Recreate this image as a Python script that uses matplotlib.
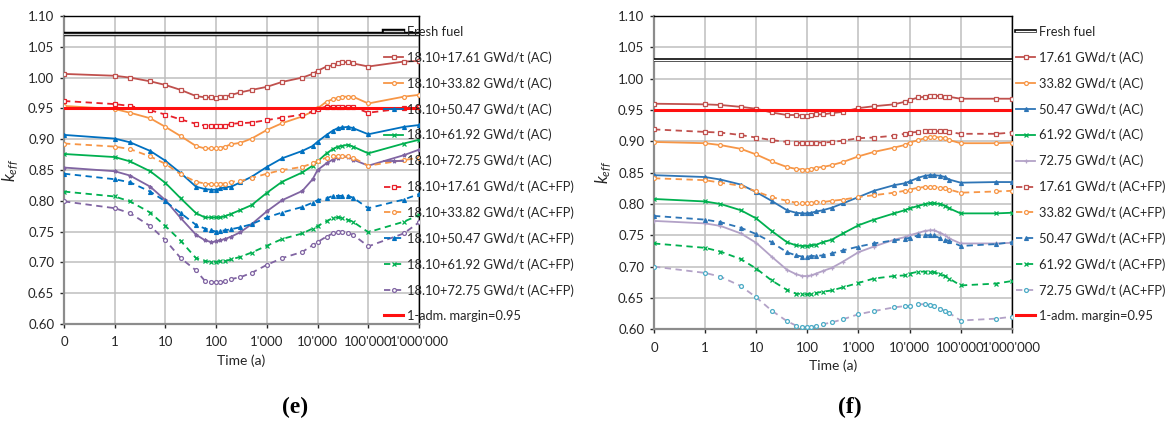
import matplotlib
matplotlib.use("Agg")
import matplotlib.pyplot as plt
import matplotlib.patheffects as pe
import numpy as np

plt.rcParams["font.family"] = ["Lato", "DejaVu Sans"]
plt.rcParams["mathtext.fontset"] = "custom"
plt.rcParams["mathtext.it"] = "Lato:italic"
plt.rcParams["mathtext.rm"] = "Lato"

# time axis (years)
TIME_E = [0, 1, 2, 5, 10, 20, 40, 60, 80, 100, 120, 150, 200, 300, 500, 1000, 2000, 5000,
          8000, 10000, 15000, 20000, 25000, 30000, 40000, 50000, 100000, 500000, 1000000]
TIME_F = [0, 1, 2, 5, 10, 20, 40, 60, 80, 100, 120, 150, 200, 300, 500, 1000, 2000, 5000,
          8000, 10000, 15000, 20000, 25000, 30000, 40000, 50000, 60000, 100000, 500000, 1000000]
XTICKS = [0, 1, 10, 100, 1000, 10000, 100000, 1000000]
XTICK_LABELS = ["0", "1", "10", "100", "1'000", "10'000", "100'000", "1'000'000"]
YTICKS = [0.60, 0.65, 0.70, 0.75, 0.80, 0.85, 0.90, 0.95, 1.00, 1.05, 1.10]

FRESH_E = 1.07
FRESH_F = 1.03
MARGIN = 0.95

# panel (e): 18.10 + burnup
E_AC_1761 = [1.006, 1.003, 1.000, 0.994, 0.988, 0.980, 0.970, 0.968, 0.968, 0.967, 0.968, 0.969, 0.972,
             0.976, 0.980, 0.985, 0.993, 1.000, 1.006, 1.011, 1.018, 1.020, 1.023, 1.025, 1.025, 1.023,
             1.018, 1.026, 1.027]
E_AC_3382 = [0.954, 0.949, 0.943, 0.934, 0.920, 0.905, 0.889, 0.885, 0.885, 0.885, 0.886, 0.888, 0.892,
             0.894, 0.901, 0.915, 0.926, 0.937, 0.945, 0.950, 0.961, 0.965, 0.967, 0.969, 0.969, 0.969,
             0.958, 0.969, 0.972]
E_AC_5047 = [0.907, 0.901, 0.895, 0.881, 0.865, 0.845, 0.823, 0.819, 0.818, 0.818, 0.820, 0.822, 0.823,
             0.830, 0.839, 0.855, 0.869, 0.881, 0.889, 0.896, 0.907, 0.914, 0.918, 0.919, 0.920, 0.918,
             0.908, 0.920, 0.923]
E_AC_6192 = [0.876, 0.871, 0.864, 0.848, 0.829, 0.804, 0.780, 0.773, 0.773, 0.773, 0.773, 0.775, 0.779,
             0.785, 0.793, 0.813, 0.831, 0.846, 0.857, 0.864, 0.877, 0.884, 0.888, 0.889, 0.891, 0.888,
             0.877, 0.893, 0.899]
E_AC_7275 = [0.854, 0.848, 0.841, 0.823, 0.801, 0.772, 0.745, 0.736, 0.733, 0.734, 0.736, 0.738, 0.742,
             0.749, 0.762, 0.783, 0.801, 0.816, 0.835, 0.850, 0.861, 0.867, 0.870, 0.872, 0.871, 0.867,
             0.857, 0.874, 0.883]
E_FP_1761 = [0.962, 0.957, 0.954, 0.947, 0.940, 0.932, 0.925, 0.922, 0.922, 0.922, 0.922, 0.922, 0.925,
             0.926, 0.927, 0.931, 0.935, 0.940, 0.945, 0.949, 0.953, 0.953, 0.953, 0.953, 0.953, 0.952,
             0.943, 0.950, 0.952]
E_FP_3382 = [0.893, 0.888, 0.884, 0.872, 0.860, 0.843, 0.831, 0.828, 0.827, 0.827, 0.828, 0.828, 0.831,
             0.832, 0.837, 0.844, 0.850, 0.855, 0.861, 0.865, 0.870, 0.872, 0.872, 0.872, 0.872, 0.870,
             0.857, 0.866, 0.870]
E_FP_5047 = [0.844, 0.835, 0.830, 0.815, 0.799, 0.780, 0.761, 0.755, 0.752, 0.750, 0.751, 0.752, 0.754,
             0.757, 0.762, 0.773, 0.781, 0.790, 0.797, 0.801, 0.804, 0.808, 0.808, 0.808, 0.808, 0.805,
             0.788, 0.802, 0.811]
E_FP_6192 = [0.815, 0.807, 0.799, 0.781, 0.759, 0.735, 0.707, 0.702, 0.701, 0.701, 0.702, 0.702, 0.705,
             0.709, 0.716, 0.727, 0.738, 0.747, 0.755, 0.759, 0.767, 0.772, 0.773, 0.772, 0.769, 0.766,
             0.749, 0.766, 0.777]
E_FP_7275 = [0.799, 0.788, 0.780, 0.759, 0.736, 0.707, 0.687, 0.670, 0.668, 0.668, 0.668, 0.669, 0.673,
             0.676, 0.683, 0.696, 0.707, 0.717, 0.728, 0.733, 0.742, 0.747, 0.750, 0.750, 0.747, 0.745,
             0.726, 0.747, 0.765]

# panel (f): burnup only
F_AC_1761 = [0.960, 0.959, 0.958, 0.955, 0.952, 0.946, 0.942, 0.942, 0.941, 0.941, 0.942, 0.943, 0.943,
             0.945, 0.947, 0.953, 0.956, 0.959, 0.963, 0.966, 0.970, 0.971, 0.972, 0.973, 0.972, 0.971,
             0.971, 0.968, 0.968, 0.968]
F_AC_3382 = [0.899, 0.897, 0.894, 0.888, 0.879, 0.868, 0.859, 0.856, 0.855, 0.855, 0.856, 0.858, 0.859,
             0.862, 0.867, 0.876, 0.883, 0.890, 0.894, 0.898, 0.902, 0.905, 0.907, 0.907, 0.906, 0.905,
             0.902, 0.897, 0.897, 0.898]
F_AC_5047 = [0.846, 0.843, 0.839, 0.831, 0.819, 0.805, 0.790, 0.786, 0.785, 0.785, 0.786, 0.788, 0.790,
             0.794, 0.801, 0.811, 0.821, 0.830, 0.833, 0.836, 0.842, 0.845, 0.846, 0.846, 0.845, 0.843,
             0.839, 0.834, 0.835, 0.835]
F_AC_6192 = [0.808, 0.804, 0.800, 0.790, 0.777, 0.757, 0.739, 0.734, 0.733, 0.733, 0.734, 0.735, 0.739,
             0.743, 0.753, 0.766, 0.775, 0.785, 0.790, 0.793, 0.797, 0.800, 0.801, 0.801, 0.800, 0.797,
             0.793, 0.785, 0.785, 0.786]
F_AC_7275 = [0.773, 0.769, 0.765, 0.753, 0.738, 0.716, 0.695, 0.688, 0.685, 0.685, 0.686, 0.689, 0.693,
             0.698, 0.708, 0.723, 0.732, 0.743, 0.747, 0.750, 0.754, 0.757, 0.758, 0.758, 0.754, 0.750,
             0.745, 0.737, 0.737, 0.738]
F_FP_1761 = [0.919, 0.915, 0.914, 0.910, 0.906, 0.902, 0.899, 0.898, 0.897, 0.897, 0.897, 0.898, 0.898,
             0.899, 0.901, 0.905, 0.906, 0.909, 0.912, 0.914, 0.915, 0.916, 0.916, 0.916, 0.916, 0.916,
             0.915, 0.912, 0.912, 0.914]
F_FP_3382 = [0.841, 0.838, 0.834, 0.829, 0.820, 0.811, 0.805, 0.802, 0.802, 0.802, 0.802, 0.803, 0.803,
             0.805, 0.807, 0.811, 0.814, 0.818, 0.821, 0.823, 0.826, 0.827, 0.827, 0.827, 0.826, 0.826,
             0.823, 0.818, 0.820, 0.821]
F_FP_5047 = [0.781, 0.775, 0.771, 0.762, 0.752, 0.739, 0.723, 0.718, 0.716, 0.716, 0.717, 0.717, 0.718,
             0.721, 0.726, 0.732, 0.737, 0.742, 0.744, 0.746, 0.750, 0.750, 0.750, 0.750, 0.745, 0.743,
             0.741, 0.733, 0.736, 0.739]
F_FP_6192 = [0.737, 0.730, 0.724, 0.712, 0.697, 0.678, 0.663, 0.657, 0.656, 0.656, 0.657, 0.658, 0.660,
             0.662, 0.667, 0.674, 0.681, 0.685, 0.686, 0.689, 0.692, 0.692, 0.692, 0.691, 0.688, 0.685,
             0.681, 0.670, 0.673, 0.677]
F_FP_7275 = [0.700, 0.690, 0.684, 0.669, 0.651, 0.630, 0.613, 0.606, 0.604, 0.604, 0.604, 0.605, 0.608,
             0.611, 0.616, 0.624, 0.629, 0.635, 0.637, 0.637, 0.640, 0.640, 0.639, 0.637, 0.633, 0.629,
             0.626, 0.614, 0.617, 0.620]

BURNUPS = ["17.61", "33.82", "50.47", "61.92", "72.75"]
MARKERS = ["s", "o", "^", "x", "*"]
E_AC_COLORS = ["#C0504D", "#F79646", "#0070C0", "#00B050", "#8064A2"]
E_FP_COLORS = ["#E8202A", "#F79646", "#0070C0", "#00B050", "#8064A2"]
F_AC_COLORS = ["#C0504D", "#F79646", "#2E75B6", "#00B050", "#B3A2C7"]
F_FP_COLORS = ["#C0504D", "#F79646", "#2E75B6", "#00B050", "#B3A2C7"]


def draw_panel(ax, time, fresh, ac, fp, ac_colors, fp_colors, prefix, panel):
    double = [pe.Stroke(linewidth=3.2 if panel == "e" else 2.6, foreground="black"), pe.Normal()]
    ax.plot([0, 1e6], [fresh, fresh], color="#d0d0d0" if panel == "e" else "white",
            lw=1.0, path_effects=double, label="Fresh fuel", zorder=3)
    for i, (vals, c) in enumerate(zip(ac, ac_colors)):
        m = MARKERS[i]
        if panel == "f" and i == 4:
            m = "+"
        ax.plot(time, vals, color=c, lw=1.3, marker=m, ms=2.8, mew=0.9,
                mfc="white" if m in "so" else c, label=f"{prefix}{BURNUPS[i]} GWd/t (AC)", zorder=4)
    for i, (vals, c) in enumerate(zip(fp, fp_colors)):
        m = MARKERS[i] if i < 4 else "o"
        mc = "#4BACC6" if (panel == "f" and i == 4) else c
        ax.plot(time, vals, color=c, lw=1.3, ls=(0, (3.5, 2.5)), marker=m, ms=2.8, mew=0.9,
                mec=mc, mfc="white" if m in "so" else mc,
                label=f"{prefix}{BURNUPS[i]} GWd/t (AC+FP)", zorder=4)
    ax.plot([0, 1e6], [MARGIN, MARGIN], color="#FF1010", lw=2.2, label="1-adm. margin=0.95", zorder=5)

    ax.set_xscale("symlog", base=10, linthresh=1, linscale=0.9)
    ax.set_xlim(0, 1e6)
    ax.set_ylim(0.60, 1.10)
    ax.set_xticks(XTICKS)
    ax.set_xticklabels(XTICK_LABELS)
    ax.xaxis.set_minor_locator(matplotlib.ticker.NullLocator())
    ax.set_yticks(YTICKS)
    ax.set_yticklabels([f"{v:.2f}" for v in YTICKS])
    ax.grid(True, color="#BEBEBE", lw=1.1)
    ax.set_axisbelow(True)
    ax.tick_params(labelsize=9.5, colors="#262626", length=3, width=1, pad=4)
    ax.tick_params(axis="x", pad=6)
    for s in ["left", "bottom"]:
        ax.spines[s].set_color("#8C8C8C")
        ax.spines[s].set_linewidth(1.6)
    for s in ["top", "right"]:
        ax.spines[s].set_color("black")
        ax.spines[s].set_linewidth(1.0)
    ax.set_xlabel("Time (a)", fontsize=10, color="#262626", labelpad=4)
    ax.set_ylabel(r"$k_{eff}$", fontsize=12, color="#262626")


fig = plt.figure(figsize=(11.67, 4.21), dpi=100)
ax_e = fig.add_axes([64 / 1167, 1 - 324 / 421, 355 / 1167, 308 / 421])
ax_f = fig.add_axes([654 / 1167, 1 - 329.3 / 421, 357.7 / 1167, 313.3 / 421])

draw_panel(ax_e, TIME_E, FRESH_E,
           [E_AC_1761, E_AC_3382, E_AC_5047, E_AC_6192, E_AC_7275],
           [E_FP_1761, E_FP_3382, E_FP_5047, E_FP_6192, E_FP_7275],
           E_AC_COLORS, E_FP_COLORS, "18.10+", "e")
draw_panel(ax_f, TIME_F, FRESH_F,
           [F_AC_1761, F_AC_3382, F_AC_5047, F_AC_6192, F_AC_7275],
           [F_FP_1761, F_FP_3382, F_FP_5047, F_FP_6192, F_FP_7275],
           F_AC_COLORS, F_FP_COLORS, "", "f")
ax_e.yaxis.set_label_coords(-0.122, 0.5)
ax_f.yaxis.set_label_coords(-0.113, 0.5)

ax_e.legend(loc="upper left", bbox_to_anchor=(384 / 1167, 1 - 26 / 421), bbox_transform=fig.transFigure,
            frameon=False, borderaxespad=0, borderpad=0, handlelength=1.5, handletextpad=0.25,
            labelspacing=1.03, fontsize=9.3, numpoints=1, labelcolor="#262626")
ax_f.legend(loc="upper left", bbox_to_anchor=(1016 / 1167, 1 - 26 / 421), bbox_transform=fig.transFigure,
            frameon=False, borderaxespad=0, borderpad=0, handlelength=1.5, handletextpad=0.25,
            labelspacing=1.03, fontsize=9.3, numpoints=1, labelcolor="#262626")

fig.text(295 / 1167, 1 - 407 / 421, "(e)", ha="center", va="center", fontsize=17,
         fontweight="bold", family=["Liberation Serif", "DejaVu Serif"])
fig.text(850 / 1167, 1 - 407 / 421, "(f)", ha="center", va="center", fontsize=17,
         fontweight="bold", family=["Liberation Serif", "DejaVu Serif"])

fig.savefig("out.png", dpi=100)
